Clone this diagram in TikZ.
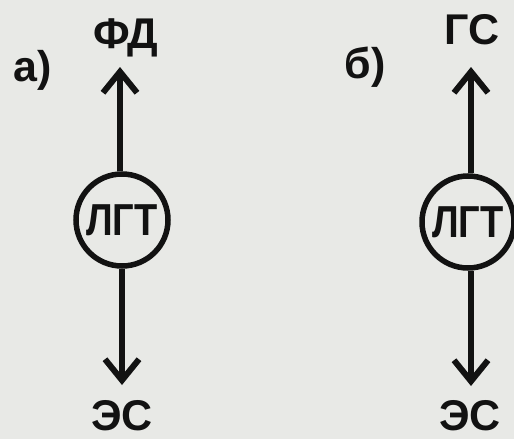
\documentclass[tikz,border=0pt]{standalone}
\usepackage{fontspec}
\setmainfont{Liberation Sans}
\usetikzlibrary{arrows.meta}
\definecolor{paper}{RGB}{232,233,230}
\definecolor{ink}{RGB}{18,18,18}
\begin{document}
\begin{tikzpicture}[x=1pt,y=-1pt,
  lbl/.style={font=\fontsize{43}{43}\selectfont\bfseries, text=ink, inner sep=0pt, anchor=center},
  gen/.style={circle, draw=ink, line width=5.5pt, minimum size=92pt, inner sep=0pt,
              font=\fontsize{40}{40}\selectfont\bfseries, text=ink},
  flow/.style={draw=ink, line width=6pt, -{Straight Barb[length=21pt,width=34pt]}}]
  \fill[paper] (0,0) rectangle (514,439);
  \useasboundingbox (0,0) rectangle (514,439);

  % variant a
  \node[lbl] (la) at (33,70) {а)};
  \node[gen] (g1) at (122,220) {\scalebox{0.95}[1.12]{ЛГТ}};
  \node[lbl] (fd) at (126,38) {ФД};
  \node[lbl] (es1) at (122,416) {ЭС};
  \coordinate (up1) at (120,67);
  \coordinate (dn1) at (122,385);
  \draw[flow] (g1.north -| up1) -- (up1);
  \draw[flow] (g1.south) -- (dn1);

  % variant b
  \node[lbl] (lb) at (365,67) {б)};
  \node[gen] (g2) at (468,222) {\scalebox{0.95}[1.12]{ЛГТ}};
  \node[lbl] (gs) at (472,30) {ГС};
  \node[lbl] (es2) at (470,416) {ЭС};
  \coordinate (up2) at (471,67);
  \coordinate (dn2) at (471,386);
  \draw[flow] (g2.north -| up2) -- (up2);
  \draw[flow] (g2.south -| dn2) -- (dn2);
\end{tikzpicture}
\end{document}
